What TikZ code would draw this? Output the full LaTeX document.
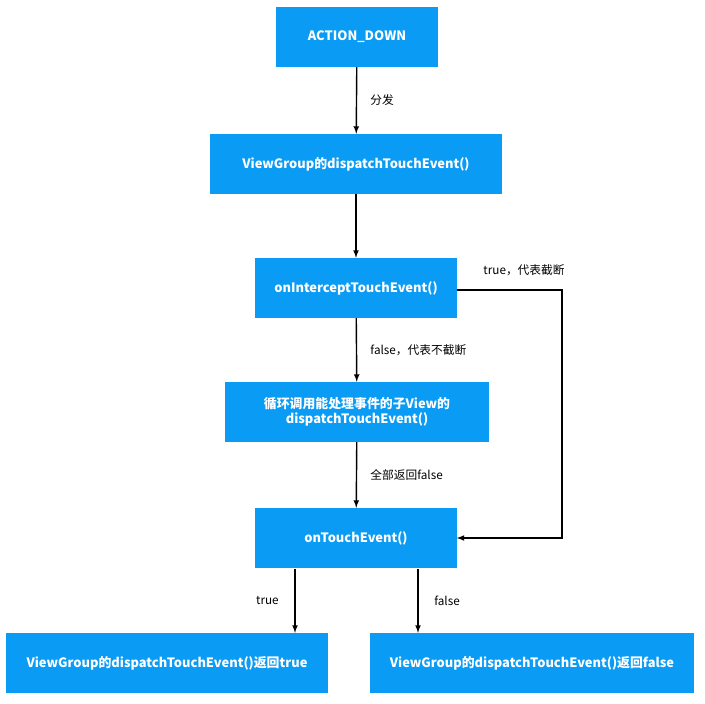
\documentclass[tikz,border=0pt]{standalone}
\usepackage{fontspec}
\setmainfont{Noto Sans CJK SC}
\definecolor{boxblue}{HTML}{0A9BF5}
\begin{document}
\begin{tikzpicture}[x=0.03cm,y=-0.03cm,
    flow/.style={rectangle, minimum height=1.8cm, text centered, fill=boxblue, text=white, font=\fontsize{11}{13}\selectfont\bfseries, align=center},
    arrow/.style={very thick,->,>=latex},
    lbl/.style={font=\fontsize{10}{12}\selectfont}
]
\useasboundingbox (0,0) rectangle (705,703);

% Flow steps
\node[flow, minimum width=4.86cm] (down) at (357,37) {ACTION\_DOWN};
\node[flow, minimum width=8.73cm] (dispatch) at (356,164) {ViewGroup的dispatchTouchEvent()};
\node[flow, minimum width=6.03cm] (intercept) at (356,288) {onInterceptTouchEvent()};
\node[flow, minimum width=7.92cm] (child) at (357,412) {循环调用能处理事件的子View的\\dispatchTouchEvent()};
\node[flow, minimum width=6.03cm] (touch) at (356,538) {onTouchEvent()};
\node[flow, minimum width=9.66cm] (rtrue) at (167,663) {ViewGroup的dispatchTouchEvent()返回true};
\node[flow, minimum width=9.69cm] (rfalse) at (532,663) {ViewGroup的dispatchTouchEvent()返回false};
\coordinate (bend1) at (562,290);
\coordinate (bend2) at (562,538);
\coordinate (lt) at (295,569);
\coordinate (rt) at (418,569);

% Connectors
\draw[arrow] (down) -- node[lbl, right=8pt] {分发} (dispatch);
\draw[arrow] (dispatch) -- (intercept);
\draw[arrow] (intercept) -- node[lbl, right=8pt] {false，代表不截断} (child);
\draw[arrow] (child) -- node[lbl, right=8pt] {全部返回false} (touch);
\draw[arrow] (intercept.east |- bend1) -- (bend1) -- (bend2) -- (touch.east);
\node[lbl] (tlbl) at (524,270) {true，代表截断};
\draw[arrow] (lt) -- node[lbl, left=10pt] {true} (lt |- rtrue.north);
\draw[arrow] (rt) -- node[lbl, right=10pt] {false} (rt |- rfalse.north);
\end{tikzpicture}
\end{document}
